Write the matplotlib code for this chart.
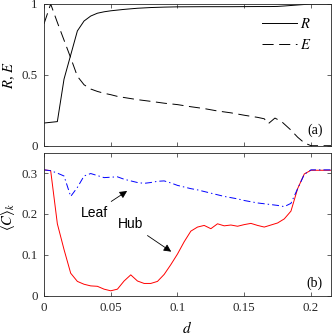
import matplotlib
matplotlib.use("Agg")
import matplotlib.pyplot as plt
import numpy as np

plt.rcParams['font.family'] = ['Liberation Serif', 'DejaVu Serif']
plt.rcParams['mathtext.fontset'] = 'stix'
plt.rcParams['lines.scale_dashes'] = False

# Panel (a)
d_R = [0, 0.005, 0.01, 0.015, 0.02, 0.025, 0.03, 0.035, 0.04, 0.045, 0.05, 0.06, 0.07, 0.08,
       0.09, 0.1, 0.12, 0.14, 0.16, 0.17, 0.175, 0.18, 0.19, 0.2, 0.215]
R = [0.16, 0.165, 0.17, 0.47, 0.64, 0.81, 0.88, 0.915, 0.935, 0.945, 0.952, 0.962, 0.97, 0.975,
     0.978, 0.98, 0.981, 0.981, 0.982, 0.982, 0.983, 0.986, 0.993, 1.0, 1.0]

d_E = [0, 0.005, 0.01, 0.015, 0.02, 0.025, 0.03, 0.035, 0.04, 0.045, 0.05, 0.055, 0.06, 0.07,
       0.08, 0.09, 0.1, 0.11, 0.12, 0.13, 0.14, 0.15, 0.16, 0.165, 0.168, 0.173, 0.178, 0.185,
       0.19, 0.195, 0.2, 0.215]
E = [0.86, 1.0, 0.87, 0.745, 0.62, 0.49, 0.43, 0.40, 0.383, 0.37, 0.36, 0.348, 0.34, 0.325,
     0.313, 0.30, 0.29, 0.275, 0.262, 0.245, 0.232, 0.215, 0.2, 0.19, 0.155, 0.195, 0.17, 0.11,
     0.06, 0.02, 0.0, 0.0]

# Panel (b)
d_C = [0, 0.005, 0.01, 0.015, 0.02, 0.025, 0.03, 0.035, 0.04, 0.045, 0.05, 0.055, 0.06, 0.065,
       0.07, 0.075, 0.08, 0.085, 0.09, 0.095, 0.1, 0.105, 0.11, 0.115, 0.12, 0.125, 0.13, 0.135,
       0.14, 0.145, 0.15, 0.155, 0.16, 0.165, 0.17, 0.175, 0.18, 0.185, 0.19, 0.195, 0.2, 0.205,
       0.21, 0.215]
hub = [0.308, 0.306, 0.176, 0.113, 0.055, 0.035, 0.028, 0.024, 0.023, 0.016, 0.012, 0.016, 0.036,
       0.051, 0.036, 0.030, 0.030, 0.035, 0.052, 0.076, 0.102, 0.132, 0.158, 0.168, 0.172, 0.164,
       0.176, 0.171, 0.173, 0.170, 0.174, 0.177, 0.172, 0.168, 0.173, 0.178, 0.188, 0.207, 0.262,
       0.298, 0.307, 0.307, 0.307, 0.307]
leaf = [0.308, 0.306, 0.300, 0.293, 0.243, 0.265, 0.293, 0.299, 0.294, 0.289, 0.290, 0.291, 0.285,
        0.281, 0.277, 0.275, 0.277, 0.280, 0.281, 0.276, 0.270, 0.266, 0.262, 0.259, 0.255, 0.251,
        0.247, 0.243, 0.240, 0.237, 0.233, 0.230, 0.227, 0.225, 0.223, 0.221, 0.218, 0.226, 0.262,
        0.297, 0.308, 0.308, 0.308, 0.308]

xticks = [0, 0.05, 0.1, 0.15, 0.2]
xticklabels = ['0', '0.05', '0.1', '0.15', '0.2']
yticks_a = [0, 0.5, 1]
yticklabels_a = ['0', '0.5', '1']
yticks_b = [0, 0.1, 0.2, 0.3]
yticklabels_b = ['0', '0.1', '0.2', '0.3']

fig = plt.figure(figsize=(3.32, 3.35), dpi=100)
W, H = 332, 335
axA = fig.add_axes([44 / W, 1 - 145.7 / H, 287 / W, (145.7 - 4) / H])
axB = fig.add_axes([44 / W, 1 - 295.7 / H, 287 / W, (295.7 - 152.7) / H])

edge = '#262626'
for ax in (axA, axB):
    ax.set_xlim(0, 0.215)
    ax.set_xticks(xticks)
    ax.tick_params(direction='in', top=True, right=True, length=3, width=0.5,
                   labelsize=9.3, colors=edge, pad=4.5)
    for s in ax.spines.values():
        s.set_linewidth(0.6)
        s.set_color(edge)

axA.plot(d_R, R, color='black', lw=0.7, label=r'$R$')
axA.plot(d_E, E, color='black', lw=0.7, dashes=(8, 4), label=r'$E$')
axA.set_ylim(0, 1)
axA.set_yticks(yticks_a)
axA.set_yticklabels(yticklabels_a)
axA.set_xticklabels([])
axA.set_ylabel(r'$R$, $E$', fontsize=10.5)
axA.yaxis.set_label_coords(-0.095, 0.5)
leg = axA.legend(loc='upper left', frameon=False, fontsize=10.5, handlelength=2.4,
                 handletextpad=0.25, bbox_to_anchor=((261.7 - 44) / 287, 0.905),
                 borderaxespad=0, borderpad=0, labelspacing=0.45)
axA.text(0.97, 0.11, '(a)', transform=axA.transAxes, ha='right', va='center', fontsize=10)

axB.plot(d_C, hub, color='red', lw=0.7)
axB.plot(d_C, leaf, color='blue', lw=0.7, dashes=(5, 2.2, 1, 2.2))
axB.set_ylim(0, 0.35)
axB.set_yticks(yticks_b)
axB.set_yticklabels(yticklabels_b)
axB.set_xticklabels(xticklabels)
axB.set_xlabel(r'$d$', fontsize=11)
axB.xaxis.set_label_coords(0.5, -0.17)
axB.set_ylabel(r'$\langle C\rangle_k$', fontsize=10.5)
axB.yaxis.set_label_coords(-0.095, 0.55)
axB.text(0.97, 0.09, '(b)', transform=axB.transAxes, ha='right', va='center', fontsize=10)

arrow = dict(arrowstyle='-|>', color='black', lw=0.6, mutation_scale=11)
axB.annotate('Leaf', xy=(0.064, 0.26), xytext=(0.0375, 0.203), fontsize=10,
             family='Liberation Sans', ha='center', va='center', arrowprops=arrow)
axB.annotate('Hub', xy=(0.097, 0.104), xytext=(0.065, 0.175), fontsize=10,
             family='Liberation Sans', ha='center', va='center', arrowprops=arrow)

fig.savefig('out.png', dpi=100)
